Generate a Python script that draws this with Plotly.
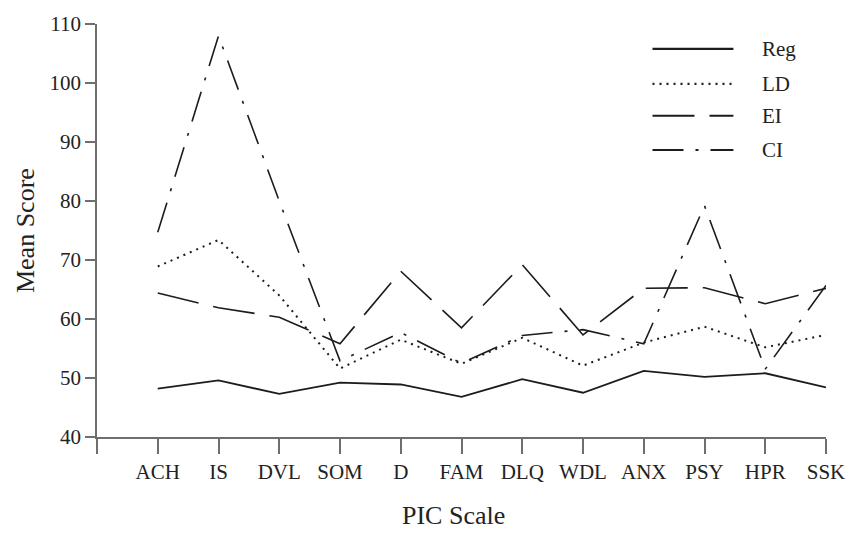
import plotly.graph_objects as go

categories = ["ACH", "IS", "DVL", "SOM", "D", "FAM", "DLQ", "WDL", "ANX", "PSY", "HPR", "SSK"]
reg = [48.2, 49.6, 47.3, 49.2, 48.9, 46.8, 49.8, 47.5, 51.2, 50.2, 50.8, 48.4]
ld = [68.9, 73.4, 64.0, 51.6, 56.5, 52.4, 56.8, 52.1, 56.0, 58.7, 55.2, 57.3]
ei = [64.4, 61.9, 60.3, 55.8, 68.1, 58.5, 69.2, 57.3, 65.2, 65.3, 62.6, 65.2]
ci = [74.7, 108.0, 80.0, 52.9, 57.7, 52.5, 57.2, 58.2, 55.8, 79.2, 51.5, 65.7]
series_names = ["Reg", "LD", "EI", "CI"]
y_ticks = [40, 50, 60, 70, 80, 90, 100, 110]

x_idx = list(range(len(categories)))
line_col = "#1c1c1c"
styles = {
    "Reg": dict(dash="solid", width=1.8),
    "LD": dict(dash="2px,5px", width=2.0),
    "EI": dict(dash="42px,15px", width=1.6),
    "CI": dict(dash="31px,12px,3px,12px", width=1.6),
}
data = {"Reg": reg, "LD": ld, "EI": ei, "CI": ci}

fig = go.Figure()
for name in series_names:
    st = styles[name]
    fig.add_trace(go.Scatter(
        x=x_idx, y=data[name], mode="lines", name=name,
        line=dict(color=line_col, width=st["width"], dash=st["dash"]),
        showlegend=False, cliponaxis=False,
    ))

font_family = "Liberation Serif, Times New Roman, serif"
axis_col = "#6e6e6e"

# manual legend (lines + labels) in paper coordinates
leg_y = [0.940, 0.855, 0.778, 0.695]
shapes = []
annotations = []
for name, yy in zip(series_names, leg_y):
    st = styles[name]
    shapes.append(dict(type="line", xref="paper", yref="paper",
                       x0=0.762, x1=0.873, y0=yy, y1=yy,
                       line=dict(color=line_col, width=st["width"] + 0.4, dash=st["dash"])))
    annotations.append(dict(text=name, xref="paper", yref="paper", x=0.909, y=yy,
                            xanchor="left", yanchor="middle", showarrow=False,
                            font=dict(family=font_family, size=21, color="#222")))

annotations.append(dict(text="PIC Scale", xref="paper", yref="paper", x=0.489, y=-0.19,
                        xanchor="center", yanchor="middle", showarrow=False,
                        font=dict(family=font_family, size=26, color="#222")))
annotations.append(dict(text="Mean Score", xref="paper", yref="paper", x=-0.098, y=0.5,
                        xanchor="center", yanchor="middle", showarrow=False, textangle=-90,
                        font=dict(family=font_family, size=26, color="#222")))

fig.update_layout(
    width=857, height=534,
    margin=dict(l=97, r=21, t=19, b=97),
    paper_bgcolor="white", plot_bgcolor="white",
    shapes=shapes, annotations=annotations,
    font=dict(family=font_family, color="#222"),
    xaxis=dict(
        range=[-1, 11],
        tickvals=[-1] + x_idx, ticktext=[""] + categories,
        showgrid=False, zeroline=False,
        showline=True, linecolor=axis_col, linewidth=1.5,
        ticks="outside", ticklen=15, tickwidth=1.5, tickcolor=axis_col,
        tickfont=dict(family=font_family, size=21, color="#222"),
    ),
    yaxis=dict(
        range=[40, 110],
        tickvals=y_ticks,
        showgrid=False, zeroline=False,
        showline=True, linecolor=axis_col, linewidth=1.5,
        ticks="outside", ticklen=10, tickwidth=1.5, tickcolor=axis_col,
        tickfont=dict(family=font_family, size=21, color="#222"),
    ),
)

fig.write_html(
    "out.html",
    config={"displayModeBar": False},
    post_script="document.body.style.margin='0';document.body.style.overflow='hidden';",
)
